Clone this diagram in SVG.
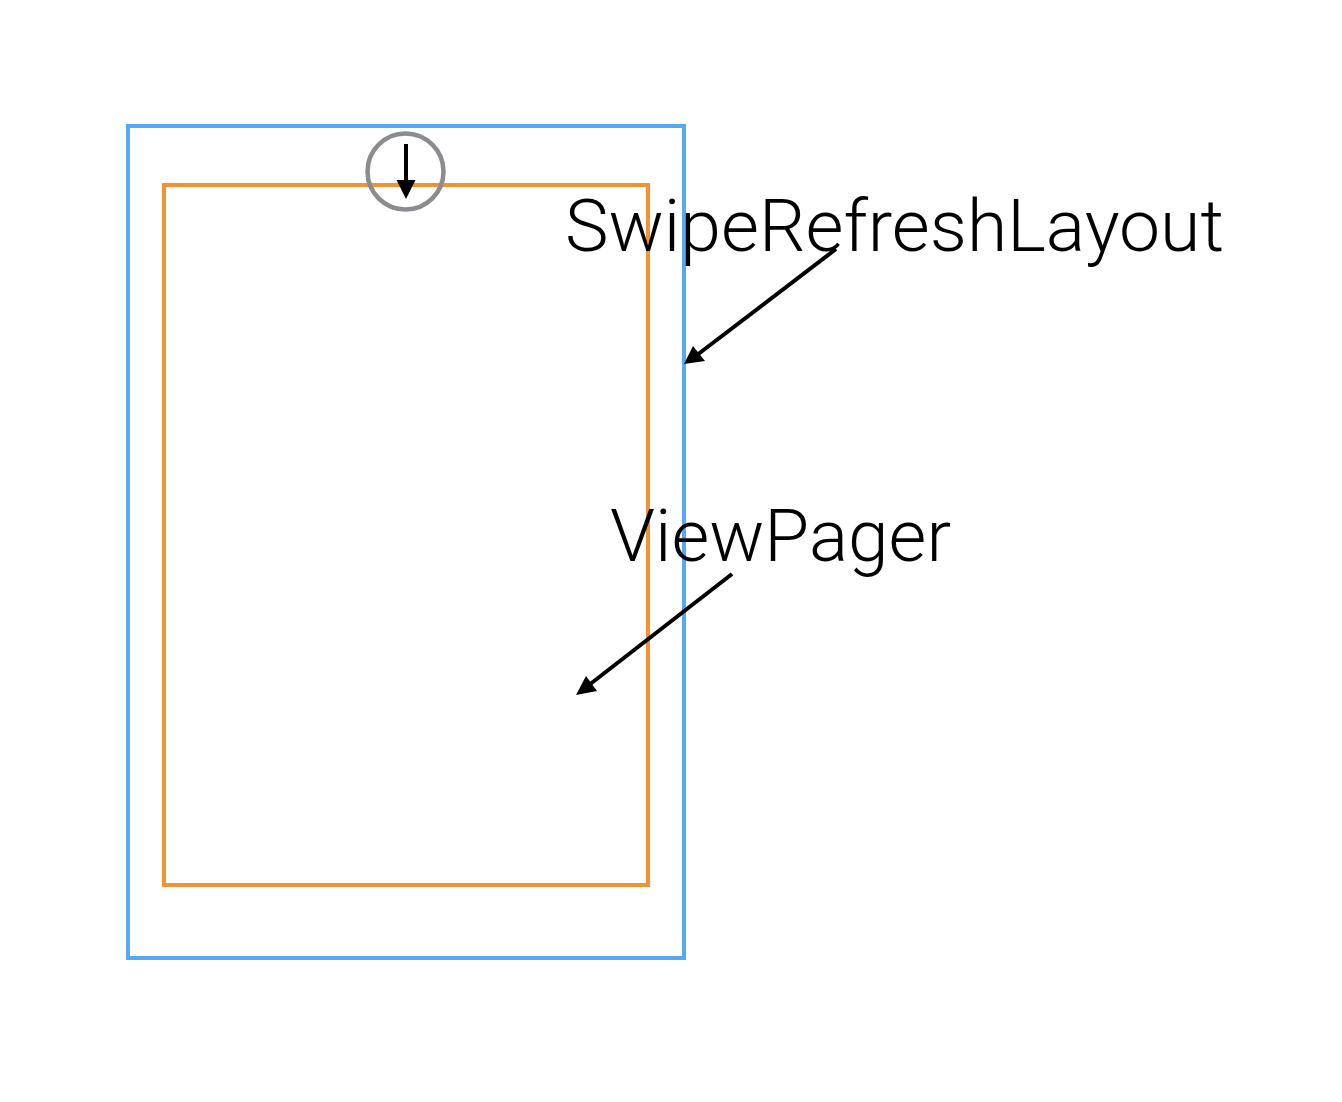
<svg xmlns="http://www.w3.org/2000/svg" width="1342" height="1102" viewBox="0 0 1342 1102">
<style>
.frame{fill:none;stroke-width:4}
.lbl{font-family:"Roboto","Liberation Sans",sans-serif;font-weight:300;font-size:73px;fill:#000}
.conn{stroke:#000;stroke-width:4;fill:none}
.head{fill:#000;stroke:none}
</style>
<rect width="1342" height="1102" fill="#fff"/>
<g id="swipe-refresh-layout"><rect class="frame" x="128" y="126" width="556" height="832" stroke="#58a9f5"/></g>
<g id="view-pager"><rect class="frame" x="164" y="185" width="484" height="700" stroke="#f29231"/></g>
<g id="refresh-indicator"><circle cx="405.500" cy="171.500" r="38" fill="none" stroke="#8a8c90" stroke-width="4.500"/></g>
<g id="label-swipe"><text class="lbl" x="565" y="251" textLength="659" lengthAdjust="spacingAndGlyphs">SwipeRefreshLayout</text></g>
<g id="label-pager"><text class="lbl" x="610" y="561" textLength="341" lengthAdjust="spacingAndGlyphs">ViewPager</text></g>
<g id="connectors">
<line class="conn" x1="406" y1="144" x2="406" y2="182"/>
<polygon class="head" points="406,199 396.500,180 415.500,180"/>
<line class="conn" x1="836" y1="249" x2="697" y2="355"/>
<polygon class="head" points="684,364 693,346 705,361"/>
<line class="conn" x1="732" y1="574" x2="589" y2="685"/>
<polygon class="head" points="576,695 586,676 597,691"/>
</g>
</svg>
